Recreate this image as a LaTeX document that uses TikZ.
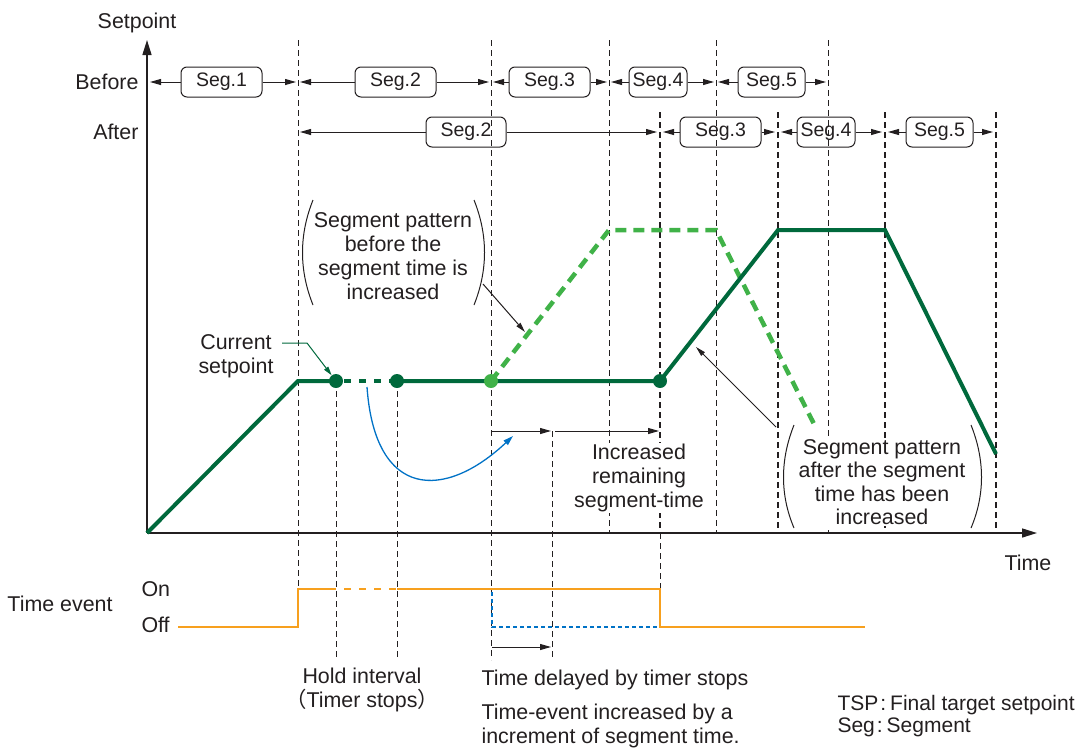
\documentclass[tikz,border=0pt]{standalone}
\usepackage{fontspec}
\setmainfont{Liberation Sans}
\newfontfamily\cjk{Noto Sans CJK SC}
\usetikzlibrary{arrows.meta}
\definecolor{txt}{RGB}{35,31,32}
\definecolor{dgreen}{RGB}{0,105,60}
\definecolor{lgreen}{RGB}{64,178,72}
\definecolor{orng}{RGB}{247,160,30}
\definecolor{bl}{RGB}{0,114,198}
\begin{document}
\begin{tikzpicture}[x=1pt,y=-1pt,
  font=\fontsize{21.4}{24}\selectfont, text=txt,
  thindash/.style={draw=txt, line width=1pt, dash pattern=on 6pt off 4pt},
  thickdash/.style={draw=txt, line width=2.6pt, dash pattern=on 6pt off 4pt},
  segbox/.style={draw=txt, line width=1pt, rounded corners=6pt, minimum height=30pt, inner sep=0pt, font=\fontsize{19.5}{22}\selectfont},
  dimarrow/.style={draw=txt, line width=1pt, -{Triangle[length=11pt,width=6pt]}},
  leader/.style={draw=txt, line width=1pt, -{Triangle[length=10pt,width=5pt]}},
  paren/.style={draw=txt, line width=1pt},
  curve/.style={draw=dgreen, line width=4pt},
  dot/.style={circle, minimum size=14pt, inner sep=0pt},
  evt/.style={draw=orng, line width=2.5pt}]
\useasboundingbox (0,0) rectangle (1081,747);

% guide lines
\foreach \x/\b in {298/589, 491/660, 609/533, 716/533, 828/533}
  \draw[thindash] (\x,40) -- (\x,\b);
\foreach \x/\t/\b in {336/381/660, 397/381/660, 552/431/660, 660/533/589}
  \draw[thindash] (\x,\t) -- (\x,\b);
\foreach \x in {660,778,885,996}
  \draw[thickdash] (\x,112) -- (\x,533);

% axes
\coordinate (O) at (147,533);
\coordinate (ytop) at (147,40);
\coordinate (xend) at (1037,533);
\draw[txt, line width=1.5pt, -{Triangle[length=15pt,width=9pt]}] (O) -- (ytop);
\draw[txt, line width=1.5pt, -{Triangle[length=15pt,width=9pt]}] (O) -- (xend);

\node (setp) at (137,23) {Setpoint};
\node[anchor=east] (before) at (142,82) {Before};
\node[anchor=east] (after) at (142,132) {After};
\node (time) at (1028,563) {Time};

% segment rows
\coordinate (b0) at (150,82);
\node[segbox, minimum width=81pt] (s1) at (221.5,82) {Seg.1};
\node[segbox, minimum width=81pt] (s2) at (395.5,82) {Seg.2};
\node[segbox, minimum width=81pt] (s3) at (549.5,82) {Seg.3};
\node[segbox, minimum width=58pt] (s4) at (658,82) {Seg.4};
\node[segbox, minimum width=67pt] (s5) at (771.5,82) {Seg.5};
\draw[dimarrow] (s1.west) -- (b0);
\draw[dimarrow] (s1.east) -- (296,82);
\draw[dimarrow] (s2.west) -- (300,82);
\draw[dimarrow] (s2.east) -- (489,82);
\draw[dimarrow] (s3.west) -- (493,82);
\draw[dimarrow] (s3.east) -- (607,82);
\draw[dimarrow] (s4.west) -- (611,82);
\draw[dimarrow] (s4.east) -- (714,82);
\draw[dimarrow] (s5.west) -- (718,82);
\draw[dimarrow] (s5.east) -- (826,82);

\node[segbox, minimum width=80pt] (a2) at (466,132) {Seg.2};
\node[segbox, minimum width=81pt] (a3) at (720.5,132) {Seg.3};
\node[segbox, minimum width=58pt] (a4) at (826,132) {Seg.4};
\node[segbox, minimum width=67pt] (a5) at (939.5,132) {Seg.5};
\draw[dimarrow] (a2.west) -- (300,132);
\draw[dimarrow] (a2.east) -- (657,132);
\draw[dimarrow] (a3.west) -- (663,132);
\draw[dimarrow] (a3.east) -- (775,132);
\draw[dimarrow] (a4.west) -- (781,132);
\draw[dimarrow] (a4.east) -- (882,132);
\draw[dimarrow] (a5.west) -- (888,132);
\draw[dimarrow] (a5.east) -- (993,132);

% patterns
\draw[lgreen, line width=4.5pt, dash pattern=on 11pt off 7pt] (491,381) -- (609,230) -- (716,230) -- (814,424);
\draw[curve, line join=miter] (O) -- (298,381) -- (336,381);
\draw[curve, dash pattern=on 7pt off 8pt] (344,381) -- (397,381);
\draw[curve, line join=miter] (397,381) -- (660,381) -- (778,230) -- (885,230) -- (996,454);
\node[dot, fill=dgreen] (d1) at (336,381) {};
\node[dot, fill=dgreen] (d2) at (397,381) {};
\node[dot, fill=lgreen] (d3) at (491,381) {};
\node[dot, fill=dgreen] (d4) at (660,381) {};

% current setpoint
\node[align=center] (cs) at (236,356) {Current\\setpoint};
\coordinate (cs1) at (282,343);
\coordinate (cs2) at (307,343);
\draw[dgreen, line width=1pt, -{Triangle[length=9pt,width=5pt]}] (cs1) -- (cs2) -- (d1);

% blue curve
\coordinate (bc0) at (367,387);
\coordinate (bc1) at (513,436);
\draw[bl, line width=1.3pt, -{Triangle[length=10pt,width=6pt]}] (bc0) .. controls (375,500) and (445,500) .. (bc1);

% increased remaining
\coordinate (r0) at (491,431);
\coordinate (r1) at (551,431);
\coordinate (r2) at (555,431);
\coordinate (r3) at (659,431);
\draw[dimarrow] (r0) -- (r1);
\draw[dimarrow] (r2) -- (r3);
\node[align=center, fill=white, inner sep=1pt] (irs) at (639,478) {Increased\\remaining\\segment-time};

% before bracket
\node[align=center] (bp) at (393,256) {Segment pattern\\before the\\segment time is\\increased};
\draw[paren] (313,200) .. controls (299,235) and (299,270) .. (313,305);
\draw[paren] (474,200) .. controls (488,235) and (488,270) .. (474,305);
\coordinate (bpl0) at (483,284);
\coordinate (bpl1) at (525,332);
\draw[leader] (bpl0) -- (bpl1);

% after bracket
\node[align=center, fill=white, inner sep=1pt, font=\fontsize{21.4}{23.4}\selectfont] (ap) at (882,482) {Segment pattern\\after the segment\\time has been\\increased};
\draw[paren] (794,425) .. controls (780,460) and (780,495) .. (794,528);
\draw[paren] (971,425) .. controls (985,460) and (985,495) .. (971,528);
\coordinate (apl0) at (776,427);
\coordinate (apl1) at (696,347);
\draw[leader] (apl0) -- (apl1);

% time event
\node (te) at (60,604) {Time event};
\node[anchor=west] (on) at (138,589) {On};
\node[anchor=west] (off) at (138,625) {Off};
\draw[evt] (178,627) -- (298,627) -- (298,589) -- (336,589);
\draw[evt, dash pattern=on 7pt off 8pt] (344,589) -- (397,589);
\draw[evt] (397,589) -- (660,589) -- (660,627) -- (865,627);
\draw[bl, line width=2pt, dash pattern=on 4pt off 3pt] (492,592) -- (492,627) -- (657,627);
\coordinate (t0) at (492,647);
\coordinate (t1) at (551,647);
\draw[dimarrow] (t0) -- (t1);

\node[align=center] (hold) at (362,690) {Hold interval\\{\cjk （}Timer stops{\cjk ）}};
\node[anchor=west] (tdl) at (478,680) {Time delayed by timer stops};
\node[anchor=west, align=left] (tei) at (478,726) {Time-event increased by a\\increment of segment time.};
\node[anchor=west, align=left, font=\fontsize{21}{22}\selectfont] (tsp) at (834,716) {TSP\kern2pt:\kern4pt Final target setpoint\\Seg\kern2pt:\kern4pt Segment};
\end{tikzpicture}
\end{document}
